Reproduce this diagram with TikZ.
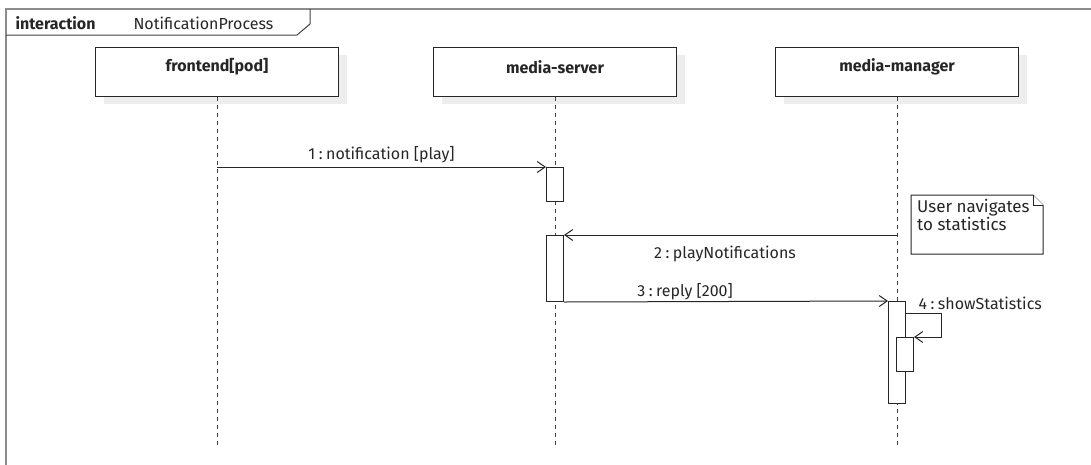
\documentclass[tikz,border=0pt]{standalone}
\usepackage{fontspec}
\setmainfont{Fira Sans}
\usetikzlibrary{arrows.meta}
\newcommand{\msgsep}{\hspace{0.22em}:\hspace{0.22em}}
\begin{document}
\begin{tikzpicture}[x=1pt,y=-1pt,
  every node/.style={font=\fontsize{16}{18}\selectfont, text=black!85},
  frameline/.style={draw=black!45, line width=2pt},
  headline/.style={draw=black!75, line width=1pt},
  lifehead/.style={draw=black!85, line width=1pt, fill=white, minimum width=243pt, minimum height=49pt, inner sep=0pt},
  headshadow/.style={fill=black!7, draw=none, minimum width=243pt, minimum height=49pt, inner sep=0pt},
  headtext/.style={font=\fontsize{16}{18}\selectfont\bfseries},
  lifeline/.style={draw=black!75, line width=1pt, dash pattern=on 4pt off 4pt},
  activation/.style={draw=black!85, line width=1pt, fill=white, minimum width=17pt, inner sep=0pt, anchor=north},
  msg/.style={draw=black!85, line width=1pt, -{Straight Barb[length=8pt,width=11pt]}},
  notebox/.style={draw=black!85, line width=1pt, fill=white}
]
\useasboundingbox (0,0) rectangle (1091,464);

% interaction frame (top and left edges)
\draw[frameline] (1095,9) -- (6,9) -- (6,470);
\draw[headline] (310,9) -- (310,24) -- (297,35) -- (6,35);
\node[anchor=base west, font=\fontsize{16}{18}\selectfont\bfseries] (kw) at (12,29) {interaction};
\node[anchor=base west] (fname) at (130,29) {NotificationProcess};

% lifeline heads with drop shadows
\node[headshadow] (feS) at (225,79.5) {};
\node[headshadow] (msS) at (563,79.5) {};
\node[headshadow] (mmS) at (905,79.5) {};
\node[lifehead] (fe) at (217,71.5) {};
\node[lifehead] (ms) at (555,71.5) {};
\node[lifehead] (mm) at (897,71.5) {};
\node[headtext] (feT) at (217,67) {frontend[pod]};
\node[headtext] (msT) at (555,67) {media-server};
\node[headtext] (mmT) at (897,67) {media-manager};

% lifelines
\coordinate (feEnd) at (217,446);
\coordinate (msEnd) at (555,446);
\coordinate (mmEnd) at (897,446);
\draw[lifeline] (fe.south) -- (feEnd);
\draw[lifeline] (ms.south) -- (msEnd);
\draw[lifeline] (mm.south) -- (mmEnd);

% execution specifications
\node[activation, minimum height=34pt] (a1) at (555,167) {};
\node[activation, minimum height=66pt] (a2) at (555,235) {};
\node[activation, minimum height=102pt] (a3) at (897,301) {};
\node[activation, minimum height=34pt] (a4) at (905,337) {};

% note
\draw[notebox] (911,195) coordinate (nTL) -- (1033,195) -- (1043,205) -- (1043,254) -- (911,254) -- cycle;
\draw[notebox] (1033,195) -- (1033,205) -- (1043,205);
\node[anchor=north west, align=left, inner sep=0pt, font=\fontsize{17}{14}\selectfont] (note) at (917,199) {User navigates\\to statistics};

% messages
\coordinate (m1s) at (217,167);
\draw[msg] (m1s) -- (a1.north west) node[midway, above=0pt] (l1) {1\msgsep notification [play]};

\coordinate (m2s) at (897,235);
\draw[msg] (m2s) -- (a2.north east);
\node (l2) at (725,254) {2\msgsep playNotifications};

\draw[msg] (a2.south east) -- (a3.north west);
\node (l3) at (685,292) {3\msgsep reply [200]};

\coordinate (m4a) at (941,313);
\coordinate (m4b) at (941,337);
\draw[msg] (a3.east |- 0,313) -- (m4a) -- (m4b) -- (a4.north east);
\node[anchor=base west] (l4) at (915,309) {4\msgsep showStatistics};
\end{tikzpicture}
\end{document}
